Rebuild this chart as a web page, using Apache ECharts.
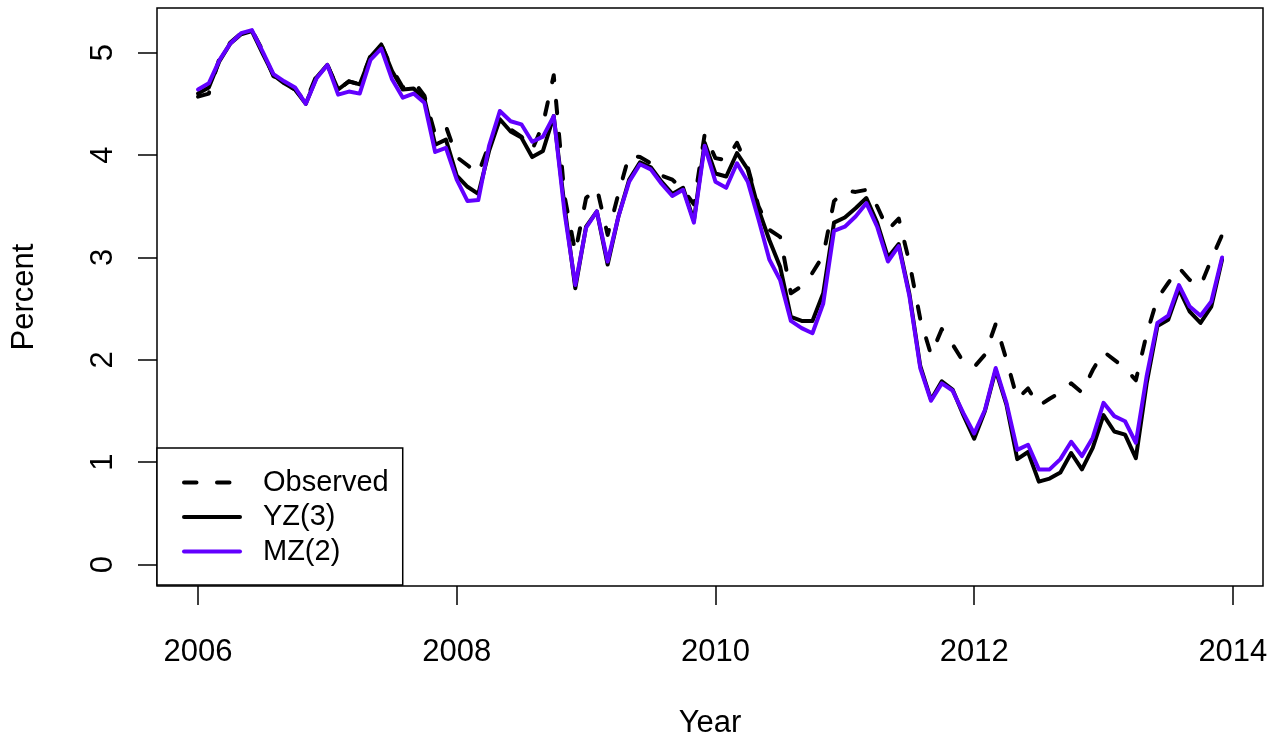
<!DOCTYPE html>
<html>
<head>
<meta charset="utf-8">
<script src="https://cdn.jsdelivr.net/npm/echarts@6/dist/echarts.min.js"></script>
<style>
  html, body { margin: 0; padding: 0; background: #fff; }
  #chart { width: 1283px; height: 740px; }
</style>
</head>
<body>
<div id="chart"></div>
<script>
// Monthly time index, January 2006 to December 2013
const years = [2006, 2007, 2008, 2009, 2010, 2011, 2012, 2013];
const months = [];
years.forEach(y => {
  for (let m = 1; m <= 12; m++) months.push(y + '-' + String(m).padStart(2, '0'));
});

// Observed yields (percent)
const observed = [
  4.57, 4.60, 4.95, 5.10, 5.19, 5.22, 5.02, 4.77, 4.70, 4.64, 4.52, 4.78,
  4.88, 4.64, 4.72, 4.69, 4.97, 5.08, 4.84, 4.66, 4.72, 4.58, 4.20, 4.28,
  3.98, 3.90, 3.82, 4.10, 4.35, 4.25, 4.18, 4.05, 4.30, 4.78, 3.60, 3.05,
  3.58, 3.68, 3.22, 3.62, 4.00, 3.98, 3.92, 3.80, 3.76, 3.66, 3.52, 4.20,
  3.97, 3.95, 4.12, 3.88, 3.50, 3.27, 3.20, 2.65, 2.72, 2.85, 3.02, 3.55,
  3.65, 3.64, 3.66, 3.50, 3.27, 3.38, 2.95, 2.40, 2.05, 2.30, 2.15, 1.98,
  1.93, 2.05, 2.35, 2.00, 1.62, 1.72, 1.55, 1.62, 1.68, 1.77, 1.68, 1.90,
  2.08, 2.00, 1.92, 1.80, 2.25, 2.60, 2.75, 2.90, 2.78, 2.72, 2.98, 3.22
];

// YZ(3) model fit
const yz3 = [
  4.60, 4.66, 4.92, 5.09, 5.18, 5.21, 4.99, 4.78, 4.70, 4.64, 4.50, 4.76,
  4.88, 4.64, 4.72, 4.69, 4.96, 5.08, 4.82, 4.64, 4.65, 4.55, 4.10, 4.15,
  3.80, 3.69, 3.62, 4.04, 4.35, 4.23, 4.17, 3.98, 4.04, 4.38, 3.50, 2.70,
  3.30, 3.45, 2.93, 3.40, 3.76, 3.93, 3.88, 3.74, 3.62, 3.68, 3.36, 4.12,
  3.82, 3.79, 4.02, 3.86, 3.47, 3.17, 2.91, 2.42, 2.38, 2.38, 2.65, 3.34,
  3.39, 3.48, 3.58, 3.34, 3.00, 3.13, 2.64, 1.94, 1.61, 1.79, 1.71, 1.46,
  1.23, 1.50, 1.90, 1.56, 1.03, 1.10, 0.81, 0.84, 0.90, 1.09, 0.93, 1.14,
  1.46, 1.30, 1.27, 1.04, 1.77, 2.33, 2.39, 2.69, 2.47, 2.36, 2.52, 2.98
];

// MZ(2) model fit
const mz2 = [
  4.64, 4.70, 4.93, 5.09, 5.19, 5.22, 5.01, 4.79, 4.72, 4.66, 4.50, 4.75,
  4.88, 4.59, 4.62, 4.60, 4.93, 5.04, 4.74, 4.56, 4.60, 4.51, 4.03, 4.07,
  3.76, 3.55, 3.56, 4.09, 4.43, 4.33, 4.30, 4.13, 4.18, 4.38, 3.44, 2.73,
  3.29, 3.45, 2.96, 3.40, 3.74, 3.91, 3.86, 3.72, 3.60, 3.66, 3.34, 4.09,
  3.74, 3.68, 3.92, 3.74, 3.37, 2.98, 2.78, 2.38, 2.31, 2.26, 2.55, 3.26,
  3.30, 3.40, 3.53, 3.30, 2.96, 3.11, 2.62, 1.92, 1.60, 1.77, 1.70, 1.48,
  1.28, 1.51, 1.92, 1.58, 1.12, 1.17, 0.93, 0.93, 1.03, 1.20, 1.06, 1.24,
  1.58, 1.45, 1.40, 1.19, 1.84, 2.36, 2.43, 2.73, 2.52, 2.43, 2.57, 3.00
];

const seriesNames = ['Observed', 'YZ(3)', 'MZ(2)'];
const xTicks = [2006, 2008, 2010, 2012, 2014];
const yTicks = [0, 1, 2, 3, 4, 5];

// "YYYY-MM" -> decimal year
function toYear(s) {
  const [y, m] = s.split('-').map(Number);
  return y + (m - 1) / 12;
}
const pairs = arr => months.map((s, i) => [toYear(s), arr[i]]);

const FONT = '"Liberation Sans", Arial, Helvetica, sans-serif';
const PURPLE = '#6200ff';

const chart = echarts.init(document.getElementById('chart'), null, { renderer: 'canvas' });

chart.setOption({
  animation: false,
  backgroundColor: '#fff',
  grid: {
    left: 157, top: 8, width: 1106, height: 578,
    outerBoundsMode: 'none',
    containLabel: false,
    show: true, borderColor: '#000', borderWidth: 1.5,
    backgroundColor: 'transparent'
  },
  xAxis: {
    type: 'value',
    min: 2005.683, max: 2014.233,
    name: 'Year', nameLocation: 'middle', nameGap: 122,
    nameTextStyle: { fontFamily: FONT, fontSize: 31, color: '#000' },
    axisLine: { show: false, onZero: false },
    splitLine: { show: false },
    axisTick: { show: true, customValues: xTicks, length: 19, lineStyle: { color: '#000', width: 1.5 } },
    axisLabel: { customValues: xTicks, margin: 51, fontFamily: FONT, fontSize: 31, color: '#000',
                 formatter: v => String(v) }
  },
  yAxis: {
    type: 'value',
    min: -0.209, max: 5.436,
    name: 'Percent', nameLocation: 'middle', nameGap: 117, nameRotate: 90,
    nameTextStyle: { fontFamily: FONT, fontSize: 31, color: '#000' },
    axisLine: { show: false, onZero: false },
    splitLine: { show: false },
    axisTick: { show: true, customValues: yTicks, length: 19, lineStyle: { color: '#000', width: 1.5 } },
    axisLabel: { customValues: yTicks, rotate: 90, margin: 38, fontFamily: FONT, fontSize: 31, color: '#000',
                 formatter: v => String(v) }
  },
  legend: {
    data: seriesNames,
    orient: 'vertical',
    left: 157, top: 448,
    padding: [20, 14, 19, 25],
    itemGap: 5.5,
    itemWidth: 56, itemHeight: 14,
    backgroundColor: '#fff',
    borderColor: '#000', borderWidth: 1.5, borderRadius: 0,
    itemStyle: { color: 'transparent', borderColor: 'transparent', borderWidth: 0 },
    lineStyle: { width: 4 },
    textStyle: { fontFamily: FONT, fontSize: 29, color: '#000', padding: [0, 0, 0, 18] }
  },
  series: [
    {
      name: seriesNames[0], type: 'line', data: pairs(observed), symbol: 'none', z: 2,
      itemStyle: { color: '#000' },
      lineStyle: { color: '#000', width: 4, type: [12.5, 20.5], cap: 'round', join: 'round' }
    },
    {
      name: seriesNames[1], type: 'line', data: pairs(yz3), symbol: 'none', z: 3,
      itemStyle: { color: '#000' },
      lineStyle: { color: '#000', width: 4, cap: 'round', join: 'round' }
    },
    {
      name: seriesNames[2], type: 'line', data: pairs(mz2), symbol: 'none', z: 4,
      itemStyle: { color: PURPLE },
      lineStyle: { color: PURPLE, width: 4, cap: 'round', join: 'round' }
    }
  ]
});
</script>
</body>
</html>
